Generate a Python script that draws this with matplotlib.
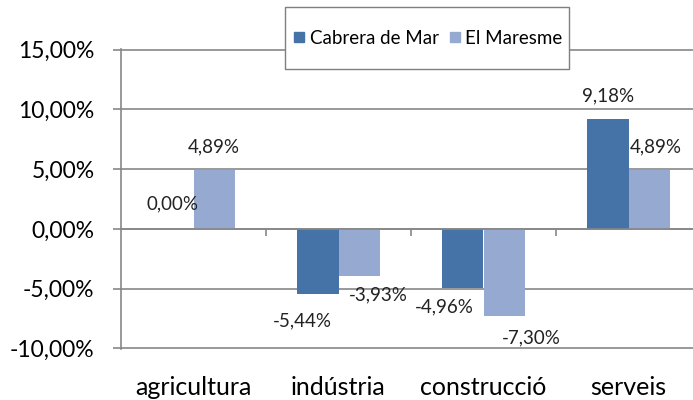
import numpy as np
import matplotlib.pyplot as plt
from matplotlib.lines import Line2D
from matplotlib.patches import Rectangle

# data
categories = ['agricultura', 'indústria', 'construcció', 'serveis']
cabrera = [0.00, -5.44, -4.96, 9.18]
maresme = [4.89, -3.93, -7.30, 4.89]
series_names = ['Cabrera de Mar', 'El Maresme']
y_ticks = [-10, -5, 0, 5, 10, 15]

# label offsets (pixels) for each bar, to mimic the original placement
cab_offsets = [(0, 25), (-15, -27), (-19, -19), (0, 23)]
mar_offsets = [(0, 24), (19, -19), (27, -22), (7, 24)]

col_cab = '#4572A7'
col_mar = '#95A9D1'
grid_col = '#878787'

plt.rcParams['font.family'] = ['Lato', 'DejaVu Sans']


def fmt(v):
    return f'{v:.2f}'.replace('.', ',') + '%'


fig = plt.figure(figsize=(6.93, 4.0), dpi=100)
ax = fig.add_axes([121 / 693, 51 / 400, 572 / 693, 300 / 400])

x = np.arange(len(categories))
w = 0.285
b1 = ax.bar(x - w / 2, cabrera, w, color=col_cab, zorder=3)
b2 = ax.bar(x + w / 2, maresme, w, color=col_mar, zorder=3)

for bars, vals, offs in [(b1, cabrera, cab_offsets), (b2, maresme, mar_offsets)]:
    for rect, v, (dx, dy) in zip(bars, vals, offs):
        ax.annotate(fmt(v), (rect.get_x() + rect.get_width() / 2, v),
                    xytext=(dx, dy), textcoords='offset pixels',
                    ha='center', va='center', fontsize=13.5, color='#222222')

ax.set_xlim(-0.5, -0.5 + 572 / 145)
ax.set_ylim(-10.05, 15.05)
ax.set_yticks(y_ticks)
ax.set_yticklabels([fmt(t) for t in y_ticks], fontsize=16.5)
ax.yaxis.grid(True, color=grid_col, linewidth=1.2, zorder=1)
ax.tick_params(axis='y', length=6, width=1.2, color=grid_col, pad=13)

# category axis crosses at zero
ax.spines['bottom'].set_position(('data', 0))
ax.spines['bottom'].set_color(grid_col)
ax.spines['bottom'].set_linewidth(1.2)
ax.spines['bottom'].set_zorder(4)
ax.set_xticks(x)
ax.set_xticklabels(categories, fontsize=18)
ax.set_xticks(x[:-1] + 0.5, minor=True)
ax.tick_params(axis='x', which='major', length=0, pad=106)
ax.tick_params(axis='x', which='minor', length=5, width=1.2, color=grid_col)

ax.spines['left'].set_color(grid_col)
ax.spines['left'].set_linewidth(1.2)
ax.spines['top'].set_visible(False)
ax.spines['right'].set_visible(False)

# legend: white box with grey frame, entries centred inside
box = Rectangle((285 / 693, 1 - 69 / 400), 284 / 693, 62 / 400,
                transform=fig.transFigure, facecolor='white',
                edgecolor='#7f7f7f', linewidth=1.0, zorder=5)
fig.patches.append(box)

handles = [Line2D([], [], marker='s', linestyle='none', markersize=7.5,
                  color=c) for c in (col_cab, col_mar)]
leg = fig.legend(handles, series_names, loc='center',
                 bbox_to_anchor=(428 / 693, 1 - 38 / 400), ncol=2,
                 fontsize=13.5, frameon=False,
                 handlelength=0.6, handletextpad=0.25, columnspacing=0.55,
                 borderpad=0, borderaxespad=0)
leg.set_zorder(6)

fig.savefig('out.png', dpi=100)
